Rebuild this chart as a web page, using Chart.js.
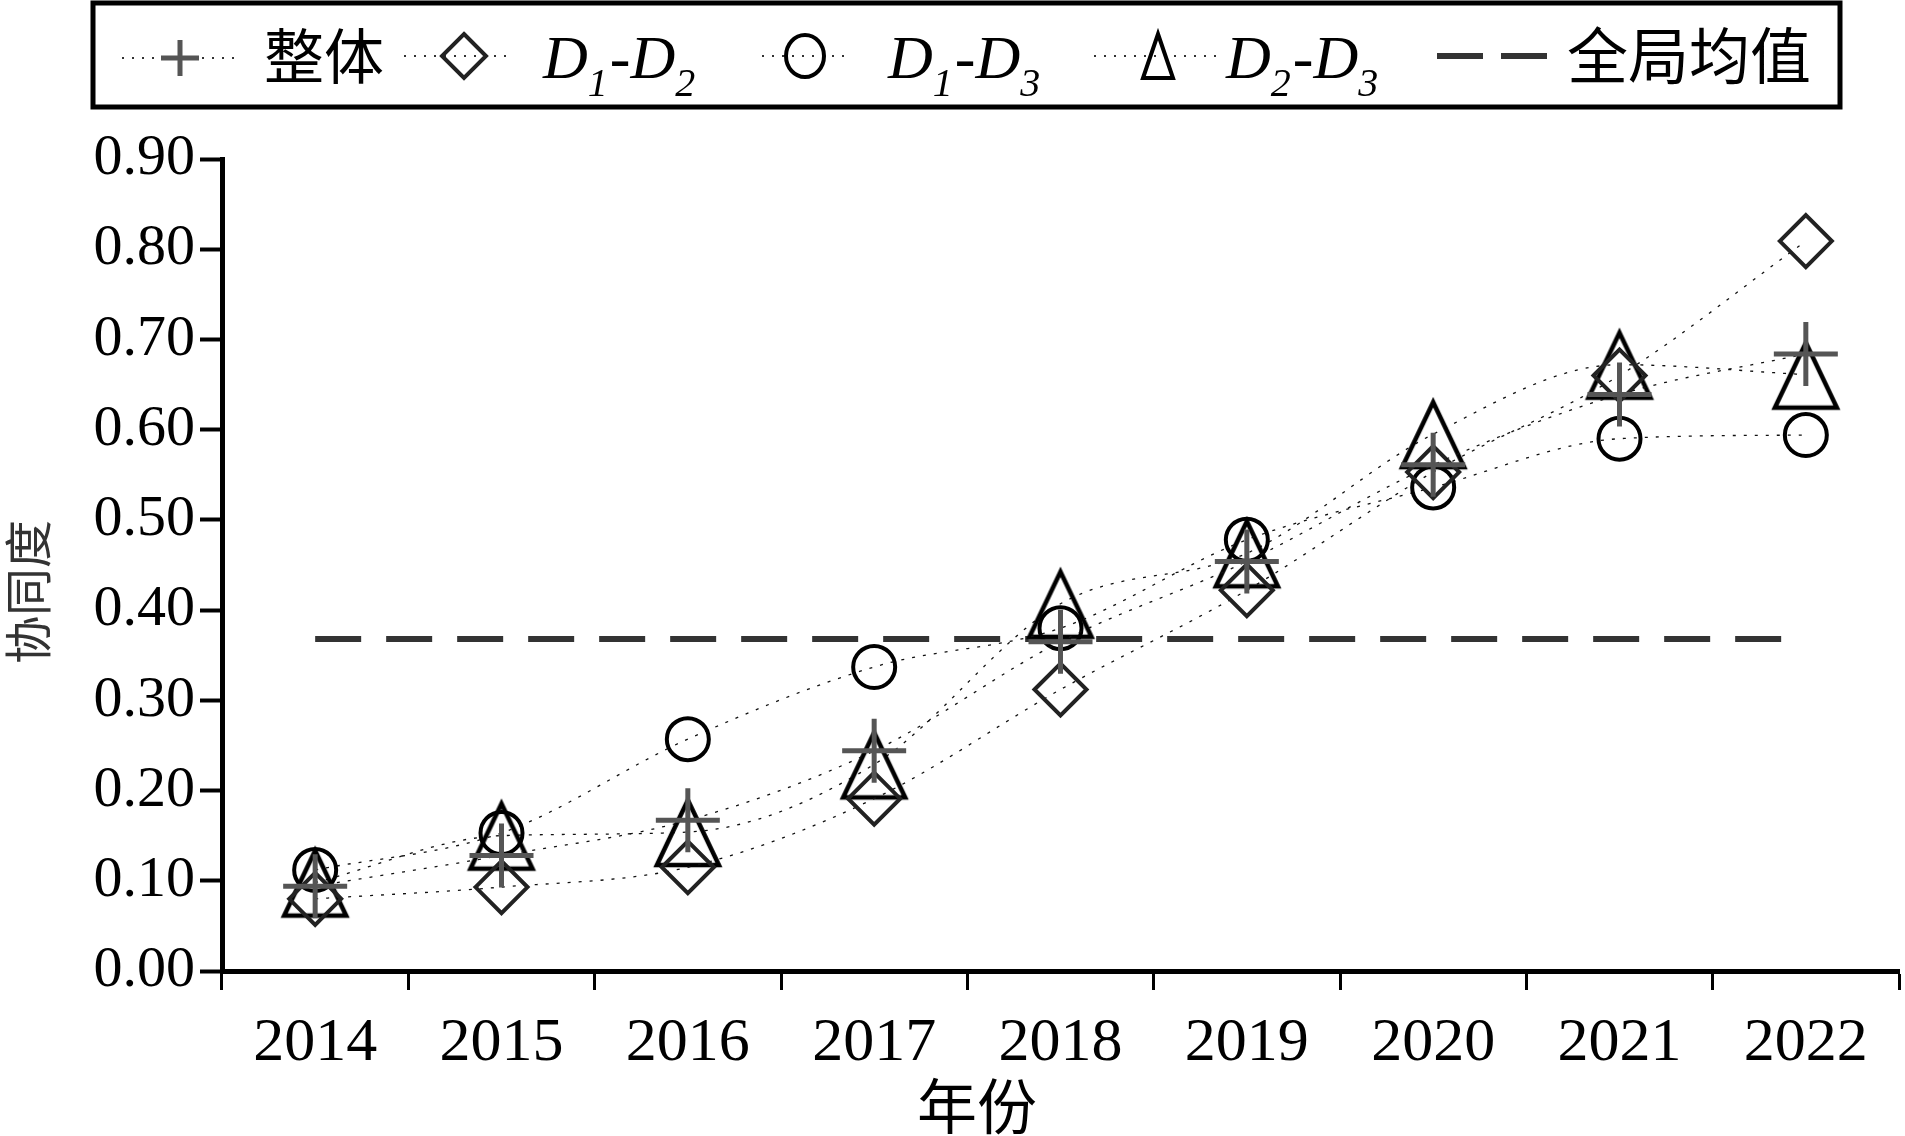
<!DOCTYPE html>
<html lang="zh">
<head>
<meta charset="utf-8">
<title>协同度</title>
<script src="https://cdn.jsdelivr.net/npm/chart.js@4.4.1/dist/chart.umd.min.js"></script>
<style>
  html, body { margin: 0; padding: 0; background: #ffffff; }
  #wrap { position: relative; width: 1905px; height: 1136px; }
  canvas { display: block; }
</style>
</head>
<body>
<div id="wrap"><canvas id="chart" width="1905" height="1136"></canvas></div>
<script>
// Categories and series
const years = ['2014', '2015', '2016', '2017', '2018', '2019', '2020', '2021', '2022'];
const overall = [0.094, 0.128, 0.167, 0.244, 0.365, 0.454, 0.561, 0.639, 0.684];
const d1d2 = [0.080, 0.093, 0.115, 0.191, 0.312, 0.422, 0.553, 0.660, 0.809];
const d1d3 = [0.112, 0.153, 0.257, 0.337, 0.380, 0.478, 0.536, 0.590, 0.594];
const d2d3 = [0.098, 0.150, 0.154, 0.229, 0.407, 0.463, 0.595, 0.672, 0.661];
const globalMean = 0.368;
const yTickLabels = ['0.00', '0.10', '0.20', '0.30', '0.40', '0.50', '0.60', '0.70', '0.80', '0.90'];

const seriesNames = ['整体', 'D1-D2', 'D1-D3', 'D2-D3', '全局均值'];
const xTitle = '年份';
const yTitle = '协同度';

const SERIF = '"Liberation Serif", "Times New Roman", serif';
const CJK = '"Noto Sans CJK SC", "Noto Sans CJK JP", sans-serif';

// Tall hollow triangle marker
function makeTriangle(w, h, halfW, topY, baseY, lw) {
  const c = document.createElement('canvas');
  c.width = w; c.height = h;
  const g = c.getContext('2d');
  g.strokeStyle = '#000';
  g.lineWidth = lw;
  g.lineJoin = 'miter';
  g.beginPath();
  g.moveTo(w / 2, topY);
  g.lineTo(w / 2 + halfW, baseY);
  g.lineTo(w / 2 - halfW, baseY);
  g.closePath();
  g.stroke();
  return c;
}
const triMarker = makeTriangle(80, 80, 31, 8, 73, 4.5);
const triLegend = makeTriangle(44, 56, 15, 6, 50, 4);

const lineCommon = {
  borderColor: '#111',
  borderWidth: 1.3,
  borderDash: [3, 8],
  cubicInterpolationMode: 'monotone',
  fill: false,
  clip: false
};

const datasets = [
  Object.assign({}, lineCommon, {
    label: seriesNames[0], data: overall,
    pointStyle: 'cross', pointRadius: 32, pointBorderWidth: 5,
    pointBorderColor: '#555', pointBackgroundColor: 'rgba(0,0,0,0)'
  }),
  Object.assign({}, lineCommon, {
    label: seriesNames[1], data: d1d2,
    pointStyle: 'rectRot', pointRadius: 26, pointBorderWidth: 4,
    pointBorderColor: '#222', pointBackgroundColor: 'rgba(0,0,0,0)'
  }),
  Object.assign({}, lineCommon, {
    label: seriesNames[2], data: d1d3,
    pointStyle: 'circle', pointRadius: 21, pointBorderWidth: 4,
    pointBorderColor: '#000', pointBackgroundColor: 'rgba(0,0,0,0)'
  }),
  Object.assign({}, lineCommon, {
    label: seriesNames[3], data: d2d3,
    pointStyle: triMarker, pointRadius: 30,
    pointBorderColor: '#000', pointBackgroundColor: 'rgba(0,0,0,0)'
  }),
  {
    label: seriesNames[4], data: years.map(() => globalMean),
    borderColor: '#333', borderWidth: 6, borderDash: [46, 25],
    pointRadius: 0, tension: 0, fill: false, clip: false
  }
];

// Draws "D₁-D₂"-style labels with italic letters and subscripts
function drawSubLabel(ctx, x, baseY, parts) {
  ctx.textAlign = 'left';
  ctx.textBaseline = 'alphabetic';
  ctx.fillStyle = '#000';
  let cx = x;
  parts.forEach(p => {
    ctx.font = 'italic ' + p.size + 'px ' + SERIF;
    ctx.fillText(p.t, cx, baseY + (p.dy || 0));
    cx += ctx.measureText(p.t).width + (p.gap || 0);
  });
}

function dottedSeg(ctx, x1, x2, y) {
  ctx.save();
  ctx.strokeStyle = '#333';
  ctx.lineWidth = 2;
  ctx.setLineDash([2, 8]);
  ctx.beginPath();
  ctx.moveTo(x1, y);
  ctx.lineTo(x2, y);
  ctx.stroke();
  ctx.restore();
}

const legendAndTitles = {
  id: 'legendAndTitles',
  afterDraw(chart) {
    const ctx = chart.ctx;
    ctx.save();

    // legend frame
    ctx.strokeStyle = '#000';
    ctx.lineWidth = 5;
    ctx.strokeRect(93, 3, 1747, 104);

    const cy = 56;

    // 整体
    dottedSeg(ctx, 122, 238, cy + 2);
    ctx.strokeStyle = '#555';
    ctx.lineWidth = 5;
    ctx.beginPath();
    ctx.moveTo(180 - 19, cy + 2); ctx.lineTo(180 + 19, cy + 2);
    ctx.moveTo(180, cy - 16); ctx.lineTo(180, cy + 20);
    ctx.stroke();
    ctx.fillStyle = '#000';
    ctx.font = '60px ' + CJK;
    ctx.textAlign = 'left';
    ctx.textBaseline = 'middle';
    ctx.fillText(seriesNames[0], 264, cy);

    // D1-D2
    dottedSeg(ctx, 404, 512, cy);
    ctx.strokeStyle = '#222';
    ctx.lineWidth = 4;
    ctx.beginPath();
    ctx.moveTo(464, cy - 22); ctx.lineTo(486, cy); ctx.lineTo(464, cy + 22); ctx.lineTo(442, cy);
    ctx.closePath();
    ctx.stroke();
    const sub = (a, b) => [
      { t: 'D', size: 62 }, { t: a, size: 40, dy: 18, gap: 2 },
      { t: '-', size: 62 }, { t: 'D', size: 62 }, { t: b, size: 40, dy: 18 }
    ];
    drawSubLabel(ctx, 543, 78, sub('1', '2'));

    // D1-D3
    dottedSeg(ctx, 762, 850, cy);
    ctx.strokeStyle = '#000';
    ctx.lineWidth = 4;
    ctx.beginPath();
    ctx.ellipse(805, cy, 19, 21, 0, 0, Math.PI * 2);
    ctx.stroke();
    drawSubLabel(ctx, 888, 78, sub('1', '3'));

    // D2-D3
    dottedSeg(ctx, 1094, 1216, cy);
    ctx.drawImage(triLegend, 1158 - triLegend.width / 2, cy - triLegend.height / 2);
    drawSubLabel(ctx, 1226, 78, sub('2', '3'));

    // 全局均值
    ctx.fillStyle = '#333';
    ctx.fillRect(1437, cy - 3, 46, 6);
    ctx.fillRect(1501, cy - 3, 46, 6);
    ctx.fillStyle = '#000';
    ctx.font = '61px ' + CJK;
    ctx.textAlign = 'left';
    ctx.textBaseline = 'middle';
    ctx.fillText(seriesNames[4], 1567, cy);

    // axis titles
    ctx.font = '60px ' + CJK;
    ctx.textAlign = 'center';
    ctx.textBaseline = 'middle';
    ctx.fillStyle = '#000';
    ctx.fillText(xTitle, 977, 1106);

    ctx.save();
    ctx.translate(28, 592);
    ctx.rotate(-Math.PI / 2);
    ctx.font = '48px ' + CJK;
    ctx.fillStyle = '#333';
    ctx.fillText(yTitle, 0, 0);
    ctx.restore();

    ctx.restore();
  }
};

new Chart(document.getElementById('chart'), {
  type: 'line',
  data: { labels: years, datasets },
  plugins: [legendAndTitles],
  options: {
    responsive: false,
    animation: false,
    devicePixelRatio: 1,
    layout: { autoPadding: false, padding: { top: 159, right: 6, left: 0, bottom: 0 } },
    plugins: { legend: { display: false }, tooltip: { enabled: false } },
    scales: {
      x: {
        type: 'category',
        offset: true,
        grid: {
          offset: true, drawOnChartArea: false, drawTicks: true,
          tickLength: 19, tickWidth: 3, tickColor: '#000'
        },
        border: { display: true, color: '#000', width: 5 },
        ticks: {
          color: '#000', font: { family: SERIF, size: 62 },
          padding: 17, maxRotation: 0, autoSkip: false
        },
        afterFit: s => { s.height = 165; s.paddingLeft = 0; s.paddingRight = 0; }
      },
      y: {
        min: 0, max: 0.9,
        grid: {
          drawOnChartArea: false, drawTicks: true,
          tickLength: 22, tickWidth: 4, tickColor: '#000'
        },
        border: { display: true, color: '#000', width: 5 },
        ticks: {
          stepSize: 0.1, color: '#000',
          font: { family: SERIF, size: 58 }, padding: 5,
          callback: (v, i) => yTickLabels[i]
        },
        afterFit: s => { s.width = 222; s.paddingTop = 0; s.paddingBottom = 0; }
      }
    }
  }
});
</script>
</body>
</html>
